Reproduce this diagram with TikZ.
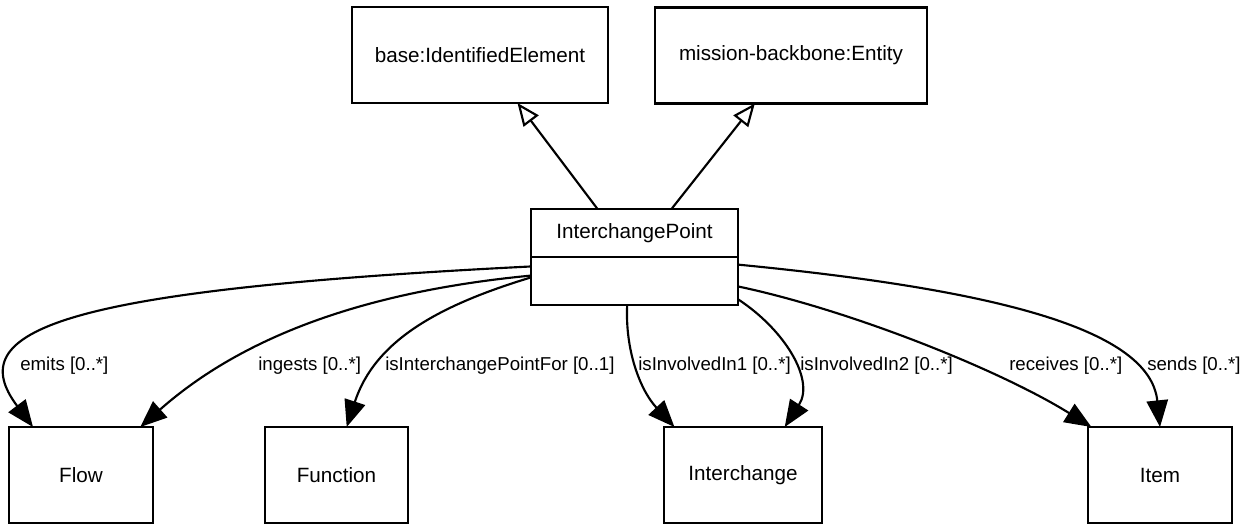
\documentclass[tikz,border=0pt]{standalone}
\usepackage{fontspec}
\setmainfont{Liberation Sans}
\usetikzlibrary{positioning, arrows.meta}
\tikzset{
  cls/.style={draw, line width=1.6pt, minimum height=72pt, inner sep=0pt, outer sep=0pt, font=\fontsize{15.5pt}{18pt}\selectfont},
  lbl/.style={anchor=west, inner sep=0pt, font=\fontsize{14pt}{16pt}\selectfont},
  assoc/.style={line width=1.6pt, -{Triangle[length=20pt, width=16pt]}},
  gen/.style={line width=1.6pt, -{Triangle[open, length=17pt, width=14pt, fill=white]}}
}
\begin{document}
\begin{tikzpicture}[x=0.75pt, y=-0.75pt]
    \useasboundingbox (0,0) rectangle (1249,526);
    \node[cls, minimum width=192pt] (base) at (480,55) {base:IdentifiedElement};
    \node[cls, minimum width=204pt] (mb) at (791,55.5) {mission-backbone:Entity};
    \node[cls, minimum width=155.25pt, minimum height=36pt] (ip) at (634.5,233) {InterchangePoint};
    \node[cls, minimum width=155.25pt, minimum height=36pt, below=0pt of ip] (ipattr) {};
    \node[cls, minimum width=108pt] (flow) at (81,475) {Flow};
    \node[cls, minimum width=107.25pt] (function) at (336.5,475) {Function};
    \node[cls, minimum width=118.5pt] (ic) at (743,475) {Interchange};
    \node[cls, minimum width=108pt] (item) at (1160,475) {Item};
    \draw[gen] (ip.147) -- (base.-52);
    \draw[gen] (ip.33) -- (mb.-127);
    \draw[assoc] (ipattr.172) .. controls (60,290) and (-40,330) .. (flow.135);
    \draw[assoc] (ipattr.177) .. controls (380,290) and (250,330) .. (flow.39);
    \draw[assoc] (ipattr.178) .. controls (440,305) and (375,340) .. (function.78);
    \draw[assoc] (ipattr.-107) .. controls (625,350) and (640,390) .. (ic.145);
    \draw[assoc] (ipattr.-10) .. controls (785,330) and (815,380) .. (ic.49);
    \draw[assoc] (ipattr.-3) .. controls (850,310) and (1000,370) .. (item.145);
    \draw[assoc] (ipattr.9) .. controls (1000,290) and (1150,330) .. (item.north);
    \node[lbl] (lemits) at (20,366) {emits [0..*]};
    \node[lbl] (lingests) at (258,366) {ingests [0..*]};
    \node[lbl] (lipf) at (385,366) {isInterchangePointFor [0..1]};
    \node[lbl] (linv1) at (638,366) {isInvolvedIn1 [0..*]};
    \node[lbl] (linv2) at (800,366) {isInvolvedIn2 [0..*]};
    \node[lbl] (lrecv) at (1009,366) {receives [0..*]};
    \node[lbl] (lsends) at (1147,366) {sends [0..*]};
\end{tikzpicture}
\end{document}
